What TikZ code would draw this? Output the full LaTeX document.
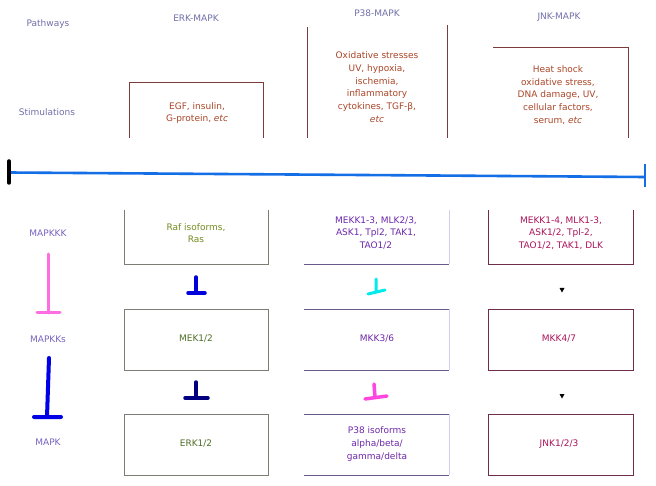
\documentclass[tikz,border=0pt]{standalone}
\usepackage{fontspec}
\setmainfont{DejaVu Sans}
\begin{document}
\begin{tikzpicture}[x=1pt,y=-1pt,
  txt/.style={font=\fontsize{9}{12.7}\selectfont, align=center, inner sep=0pt},
  hdr/.style={txt, text=hdrc},
  stimt/.style={txt, text=stimtxt},
  erkt/.style={txt, text=erktxt},
  p38t/.style={txt, text=p38txt},
  jnkt/.style={txt, text=jnktxt},
  tbar/.style={line width=3.5pt, line cap=round},
]
\definecolor{hdrc}{RGB}{112,112,170}
\definecolor{lblc}{RGB}{120,100,190}
\definecolor{stimtxt}{RGB}{170,70,40}
\definecolor{stimln}{RGB}{125,60,60}
\definecolor{erktxt}{RGB}{80,110,40}
\definecolor{erkln}{RGB}{125,125,115}
\definecolor{p38txt}{RGB}{110,40,170}
\definecolor{p38ln}{RGB}{105,90,135}
\definecolor{p38faint}{RGB}{215,205,235}
\definecolor{jnktxt}{RGB}{170,20,90}
\definecolor{jnkln}{RGB}{110,45,75}
\definecolor{bluel}{RGB}{20,110,230}
\useasboundingbox (0,0) rectangle (656,486);
\fill[white] (0,0) rectangle (656,486);

% headers
\node[hdr] (pw) at (48,24) {Pathways};
\node[hdr] (erkh) at (196,18) {ERK-MAPK};
\node[hdr] (p38h) at (377,13) {P38-MAPK};
\node[hdr] (jnkh) at (559,17) {JNK-MAPK};
\node[hdr] (st) at (47,112) {Stimulations};

% stimulation boxes
\draw[stimln, line width=0.8pt] (129,138) -- (129,82) -- (263,82) -- (263,138);
\node[stimt] (s1) at (197,113) {EGF, insulin,\\G-protein, \textit{etc}};
\draw[stimln, line width=0.8pt] (307,27) -- (307,138);
\draw[stimln, line width=0.8pt] (447,25) -- (447,138);
\node[stimt] (s2) at (377,87) {Oxidative stresses\\UV, hypoxia,\\ischemia,\\inflammatory\\cytokines, TGF-β,\\\textit{etc}};
\draw[stimln, line width=0.8pt] (493,47) -- (628,47) -- (628,138);
\node[stimt] (s3) at (558,95) {Heat shock\\oxidative stress,\\DNA damage, UV,\\cellular factors,\\serum, \textit{etc}};

% blue membrane line
\coordinate (bl) at (9,172.5);
\coordinate (br) at (645,177);
\draw[bluel, line width=2.6pt] (bl) -- (br);
\draw[black, line width=3.5pt, line cap=round] (9,161) -- (9,183);
\draw[bluel, line width=2.8pt] (645,164) -- (645,187);

% row labels
\node[txt, text=lblc] (l1) at (48,233) {MAPKKK};
\node[txt, text=lblc] (l2) at (48,339) {MAPKKs};
\node[txt, text=lblc] (l3) at (48,442) {MAPK};

% ERK column
\draw[erkln, line width=0.8pt] (124,210) -- (124,264) -- (268,264) -- (268,210);
\node[erkt, text=erktxt!80!yellow] (e1) at (196,233) {Raf isoforms,\\Ras};
\draw[erkln, line width=0.8pt] (124,309) rectangle (268,370);
\node[erkt] (e2) at (196,339) {MEK1/2};
\draw[erkln, line width=0.8pt] (124,414) rectangle (268,475);
\node[erkt] (e3) at (196,444) {ERK1/2};

% P38 column
\draw[p38ln, line width=0.8pt] (304,264) -- (449,264);
\draw[p38faint, line width=0.8pt] (449,210) -- (449,264);
\node[p38t] (p1) at (376,233) {MEKK1-3, MLK2/3,\\ASK1, Tpl2, TAK1,\\TAO1/2};
\draw[p38ln, line width=0.8pt] (304,309) -- (449,309) (304,370) -- (449,370);
\draw[p38faint, line width=0.8pt] (449,309) -- (449,370);
\node[p38t] (p2) at (377,339) {MKK3/6};
\draw[p38ln, line width=0.8pt] (304,414) -- (449,414) (304,475) -- (449,475);
\draw[p38faint, line width=0.8pt] (449,414) -- (449,475);
\node[p38t] (p3) at (377,444) {P38 isoforms\\alpha/beta/\\gamma/delta};

% JNK column
\draw[jnkln, line width=0.8pt] (488,210) -- (488,264) -- (633,264) -- (633,210);
\node[jnkt] (j1) at (561,233) {MEKK1-4, MLK1-3,\\ASK1/2, Tpl-2,\\TAO1/2, TAK1, DLK};
\draw[jnkln, line width=0.8pt] (488,309) rectangle (633,370);
\node[jnkt] (j2) at (559,339) {MKK4/7};
\draw[jnkln, line width=0.8pt] (488,414) rectangle (633,475);
\node[jnkt] (j3) at (559,444) {JNK1/2/3};

% T-bars
\draw[tbar, line width=3pt, color={rgb,255:red,255;green,110;blue,225}] (48,254) -- (48,313) (37,313) -- (60,313);
\draw[tbar, line width=4pt, color={rgb,255:red,0;green,0;blue,230}] (49,358) -- (47,417) (34,417) -- (61,417);
\draw[tbar, color={rgb,255:red,0;green,0;blue,220}] (196,277) -- (196,293) (188,293) -- (205,293);
\draw[tbar, color={rgb,255:red,0;green,0;blue,128}] (196,382) -- (196,398) (185,398) -- (208,398);
\draw[tbar, line width=3pt, color={rgb,255:red,0;green,235;blue,235}] (376,279) -- (376,292) (368,294) -- (385,290);
\draw[tbar, line width=3.5pt, color={rgb,255:red,255;green,70;blue,225}] (374,384) -- (375,397) (365,399) -- (387,396);

% JNK tiny arrowheads
\fill[black] (559.5,288) -- (564.5,288) -- (562,292.5) -- cycle;
\fill[black] (559.5,394) -- (564.5,394) -- (562,398.5) -- cycle;
\end{tikzpicture}
\end{document}
